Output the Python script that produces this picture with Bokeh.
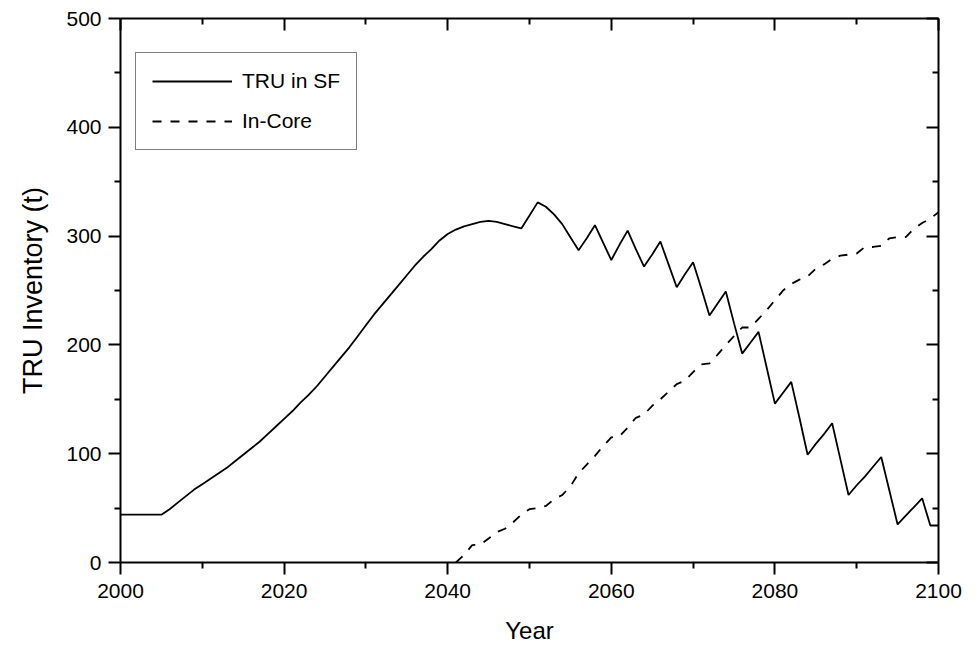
from bokeh.plotting import figure
from bokeh.models import (LinearAxis, FixedTicker, Range1d, Legend, LegendItem)
from bokeh.embed import file_html
from bokeh.resources import INLINE

# ---- data ----
years_sf = list(range(2000, 2101))
tru_in_sf = [44, 44, 44, 44, 44, 44, 49, 55, 61, 67,
             72, 77, 82, 87, 93, 99, 105, 111, 118, 125,
             132, 139, 147, 154, 162, 171, 180, 189, 198, 208,
             218, 228, 237, 246, 255, 264, 273, 281, 288, 296,
             302, 306, 309, 311, 313, 314, 313, 311, 309, 307,
             319, 331, 327, 320, 311, 299, 287, 298, 310, 294,
             278, 292, 305, 288, 272, 283, 295, 274, 253, 265,
             276, 252, 227, 238, 249, 220, 192, 202, 212, 179,
             146, 156, 166, 133, 99, 109, 118, 128, 95, 62,
             71, 79, 88, 97, 66, 35, 43, 51, 59, 34, 34]

years_core = list(range(2041, 2101))
in_core = [0, 7, 16, 16.5, 22, 28, 31, 37, 44, 49,
           50, 52, 58, 62, 70, 82, 90, 98, 107, 115,
           116, 124, 133, 136, 144, 150, 157, 164, 167, 175,
           182, 183, 191, 200, 208, 216, 216, 224, 232, 241,
           250, 256, 260, 263, 270, 274, 279, 282, 283, 284,
           290, 290, 291, 298, 299, 299, 307, 312, 316, 322]

x_major = [2000, 2020, 2040, 2060, 2080, 2100]
x_minor = [2010, 2030, 2050, 2070, 2090]
y_major = [0, 100, 200, 300, 400, 500]
y_minor = [50, 150, 250, 350, 450]

series_names = ["TRU in SF", "In-Core"]
x_title = "Year"
y_title = "TRU Inventory (t)"

FONT = "Liberation Sans"

p = figure(width=970, height=648, output_backend="svg", toolbar_location=None,
           x_range=Range1d(2000, 2100), y_range=Range1d(0, 500),
           x_axis_type=None, y_axis_type=None,
           min_border_left=120, min_border_right=32, min_border_top=18, min_border_bottom=86)
p.background_fill_color = "white"
p.border_fill_color = "white"
p.outline_line_color = None
p.xgrid.visible = False
p.ygrid.visible = False

def style_axis(ax, labels=True, inside=False):
    ax.axis_line_width = 2
    ax.axis_line_color = "black"
    ax.major_tick_line_width = 2
    ax.minor_tick_line_width = 2
    ax.major_tick_line_color = "black"
    ax.minor_tick_line_color = "black"
    if inside:
        ax.major_tick_in = 12
        ax.major_tick_out = 0
        ax.minor_tick_in = 6
        ax.minor_tick_out = 0
    else:
        ax.major_tick_in = 0
        ax.major_tick_out = 12
        ax.minor_tick_in = 0
        ax.minor_tick_out = 6
    ax.major_label_text_font = FONT
    ax.major_label_text_font_size = "21px"
    ax.major_label_text_color = "black"
    ax.axis_label_text_font = FONT
    ax.axis_label_text_font_size = "24px"
    ax.axis_label_text_font_style = "normal"
    ax.axis_label_text_color = "black"
    if not labels:
        ax.major_label_text_font_size = "0px"
        ax.major_label_text_alpha = 0

xb = LinearAxis(ticker=FixedTicker(ticks=x_major, minor_ticks=x_minor), axis_label=x_title)
style_axis(xb)
xb.major_label_standoff = 9
xb.axis_label_standoff = 16
p.add_layout(xb, "below")

yl = LinearAxis(ticker=FixedTicker(ticks=y_major, minor_ticks=y_minor), axis_label=y_title)
style_axis(yl)
yl.axis_label_text_font_size = "27px"
yl.major_label_standoff = 7
yl.axis_label_standoff = 15
p.add_layout(yl, "left")

xt = LinearAxis(ticker=FixedTicker(ticks=x_major, minor_ticks=x_minor))
style_axis(xt, labels=False, inside=True)
xt.major_label_standoff = 0
p.add_layout(xt, "above")

yr = LinearAxis(ticker=FixedTicker(ticks=y_major, minor_ticks=y_minor))
style_axis(yr, labels=False, inside=True)
yr.major_label_standoff = 0
p.add_layout(yr, "right")

r1 = p.line(years_sf, tru_in_sf, line_color="black", line_width=1.8)
r2 = p.line(years_core, in_core, line_color="black", line_width=1.8, line_dash="9 9")

legend = Legend(items=[LegendItem(label=series_names[0], renderers=[r1]),
                       LegendItem(label=series_names[1], renderers=[r2])],
                location=(15, 412))
legend.border_line_color = "black"
legend.border_line_width = 1.2
legend.background_fill_color = "white"
legend.label_text_font = FONT
legend.label_text_font_size = "21px"
legend.label_text_color = "black"
legend.glyph_width = 80
legend.glyph_height = 24
legend.label_height = 24
legend.label_standoff = 10
legend.padding = 16
legend.spacing = 16
legend.margin = 0
p.add_layout(legend, "center")

open("out.html", "w").write(file_html(p, INLINE))
